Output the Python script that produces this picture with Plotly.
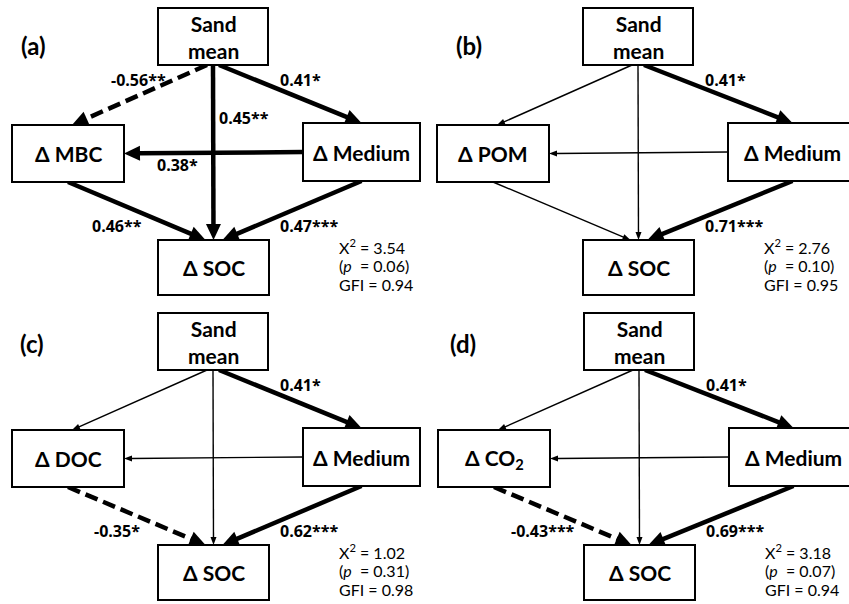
import math
import plotly.graph_objects as go

# ---------------- data ----------------
panels = ["a", "b", "c", "d"]
mediator_labels = ["Δ MBC", "Δ POM", "Δ DOC", "Δ CO<sub>2</sub>"]
top_label = "Sand<br>mean"
right_label = "Δ Medium"
bottom_label = "Δ SOC"

# path coefficients: (source, target) per panel; "" = non-significant (thin line)
edge_keys = [("top", "left"), ("top", "right"), ("top", "bottom"),
             ("right", "left"), ("left", "bottom"), ("right", "bottom")]
coef_a = ["-0.56**", "0.41*", "0.45**", "0.38*", "0.46**", "0.47***"]
coef_b = ["", "0.41*", "", "", "", "0.71***"]
coef_c = ["", "0.41*", "", "", "-0.35*", "0.62***"]
coef_d = ["", "0.41*", "", "", "-0.43***", "0.69***"]
coefs = [coef_a, coef_b, coef_c, coef_d]

chi2_values = ["3.54", "2.76", "1.02", "3.18"]
p_values = ["0.06", "0.10", "0.31", "0.07"]
gfi_values = ["0.94", "0.95", "0.98", "0.94"]

# ---------------- layout / geometry ----------------
W, H = 849, 604
offsets = [(0, 0), (425, 0), (0, 305), (426, 305)]
panel_label_pos = [(33, 45), (469, 45), (32, 343), (463, 343)]

boxes_left_panel = {
    "top": (158, 8, 268, 65),
    "left": (12, 125, 124, 182),
    "right": (303, 123, 420, 181),
    "bottom": (158, 240, 269, 295),
}
boxes_right_panel = dict(boxes_left_panel)
boxes_right_panel["right"] = (303, 123, 432, 181)

# anchor rules: (source side, shift), (target side, shift)
anchor_rules = {
    ("top", "left"): (("bottom", -6), ("top", 4)),
    ("top", "right"): (("bottom", 6), ("top", 0)),
    ("top", "bottom"): (("bottom", 0), ("top", 0)),
    ("right", "left"): (("left", 0), ("right", 0)),
    ("left", "bottom"): (("bottom", 0), ("top", -8)),
    ("right", "bottom"): (("bottom", 0), ("top", 9)),
}
coef_label_pos = {
    ("top", "left"): (138, 80),
    ("top", "right"): (300, 80),
    ("top", "bottom"): (244, 118),
    ("right", "left"): (177, 165),
    ("left", "bottom"): (117, 226),
    ("right", "bottom"): (309, 226),
}
fit_pos = (337, [246, 265, 284])

THICK, THIN = 4.5, 1.4
FONT = "Lato, 'Open Sans', sans-serif"
COEF_FONT = "'Open Sans', Lato, sans-serif"


def anchor(box, side, shift):
    x0, y0, x1, y1 = box
    cx, cy = (x0 + x1) / 2, (y0 + y1) / 2
    if side == "top":
        return cx + shift, y0
    if side == "bottom":
        return cx + shift, y1
    if side == "left":
        return x0, cy + shift
    return x1, cy + shift


shapes = []
annotations = []

for i, p in enumerate(panels):
    ox, oy = offsets[i]
    boxes = boxes_left_panel if i % 2 == 0 else boxes_right_panel
    boxes = {k: (b[0] + ox, b[1] + oy, b[2] + ox, b[3] + oy) for k, b in boxes.items()}

    # arrows
    for key, coef in zip(edge_keys, coefs[i]):
        (s_side, s_sh), (t_side, t_sh) = anchor_rules[key]
        x0, y0 = anchor(boxes[key[0]], s_side, s_sh)
        x1, y1 = anchor(boxes[key[1]], t_side, t_sh)
        sig = coef != ""
        neg = coef.startswith("-")
        lw = THICK if sig else THIN
        hl, hw = (16, 15) if sig else (8, 6)
        dx, dy = x1 - x0, y1 - y0
        L = math.hypot(dx, dy)
        ux, uy = dx / L, dy / L
        bx, by = x1 - ux * hl, y1 - uy * hl
        shapes.append(dict(type="line", x0=x0, y0=y0, x1=bx + ux * 1, y1=by + uy * 1,
                           xref="x", yref="y",
                           line=dict(color="black", width=lw,
                                     dash="13px,6px" if neg else "solid")))
        px, py = -uy, ux
        path = (f"M {x1},{y1} L {bx + px * hw / 2},{by + py * hw / 2} "
                f"L {bx - px * hw / 2},{by - py * hw / 2} Z")
        shapes.append(dict(type="path", path=path, xref="x", yref="y",
                           fillcolor="black", line=dict(width=0)))
        if sig:
            lx, ly = coef_label_pos[key]
            annotations.append(dict(x=lx + ox, y=ly + oy, xref="x", yref="y",
                                    text=coef, showarrow=False,
                                    font=dict(family=COEF_FONT, size=16, color="black",
                                              weight="bold")))

    # boxes
    labels = {"top": top_label, "left": mediator_labels[i],
              "right": right_label, "bottom": bottom_label}
    for k, (x0, y0, x1, y1) in boxes.items():
        shapes.append(dict(type="rect", x0=x0, y0=y0, x1=x1, y1=y1, xref="x", yref="y",
                           fillcolor="white", line=dict(color="black", width=2)))
        annotations.append(dict(x=(x0 + x1) / 2, y=(y0 + y1) / 2, xref="x", yref="y",
                                text=labels[k], showarrow=False,
                                font=dict(family=FONT, size=21, color="black",
                                          weight="bold")))

    # panel letter
    lx, ly = panel_label_pos[i]
    annotations.append(dict(x=lx, y=ly, xref="x", yref="y", text=f"({p})",
                            showarrow=False,
                            font=dict(family=FONT, size=24, color="black", weight="bold")))

    # fit statistics
    fx, fys = fit_pos
    fit_lines = [f"X<sup>2</sup> = {chi2_values[i]}",
                 f"(<i>p</i>  = {p_values[i]})",
                 f"GFI = {gfi_values[i]}"]
    for t, fy in zip(fit_lines, fys):
        annotations.append(dict(x=fx + ox, y=fy + oy, xref="x", yref="y", text=t,
                                showarrow=False, xanchor="left",
                                font=dict(family=FONT, size=16, color="black")))

fig = go.Figure()
fig.update_layout(
    width=W, height=H,
    margin=dict(l=0, r=0, t=0, b=0),
    paper_bgcolor="white", plot_bgcolor="white",
    xaxis=dict(range=[0, W], visible=False, fixedrange=True),
    yaxis=dict(range=[H, 0], visible=False, fixedrange=True),
    shapes=shapes, annotations=annotations, showlegend=False,
)
fig.write_html("out.html")
